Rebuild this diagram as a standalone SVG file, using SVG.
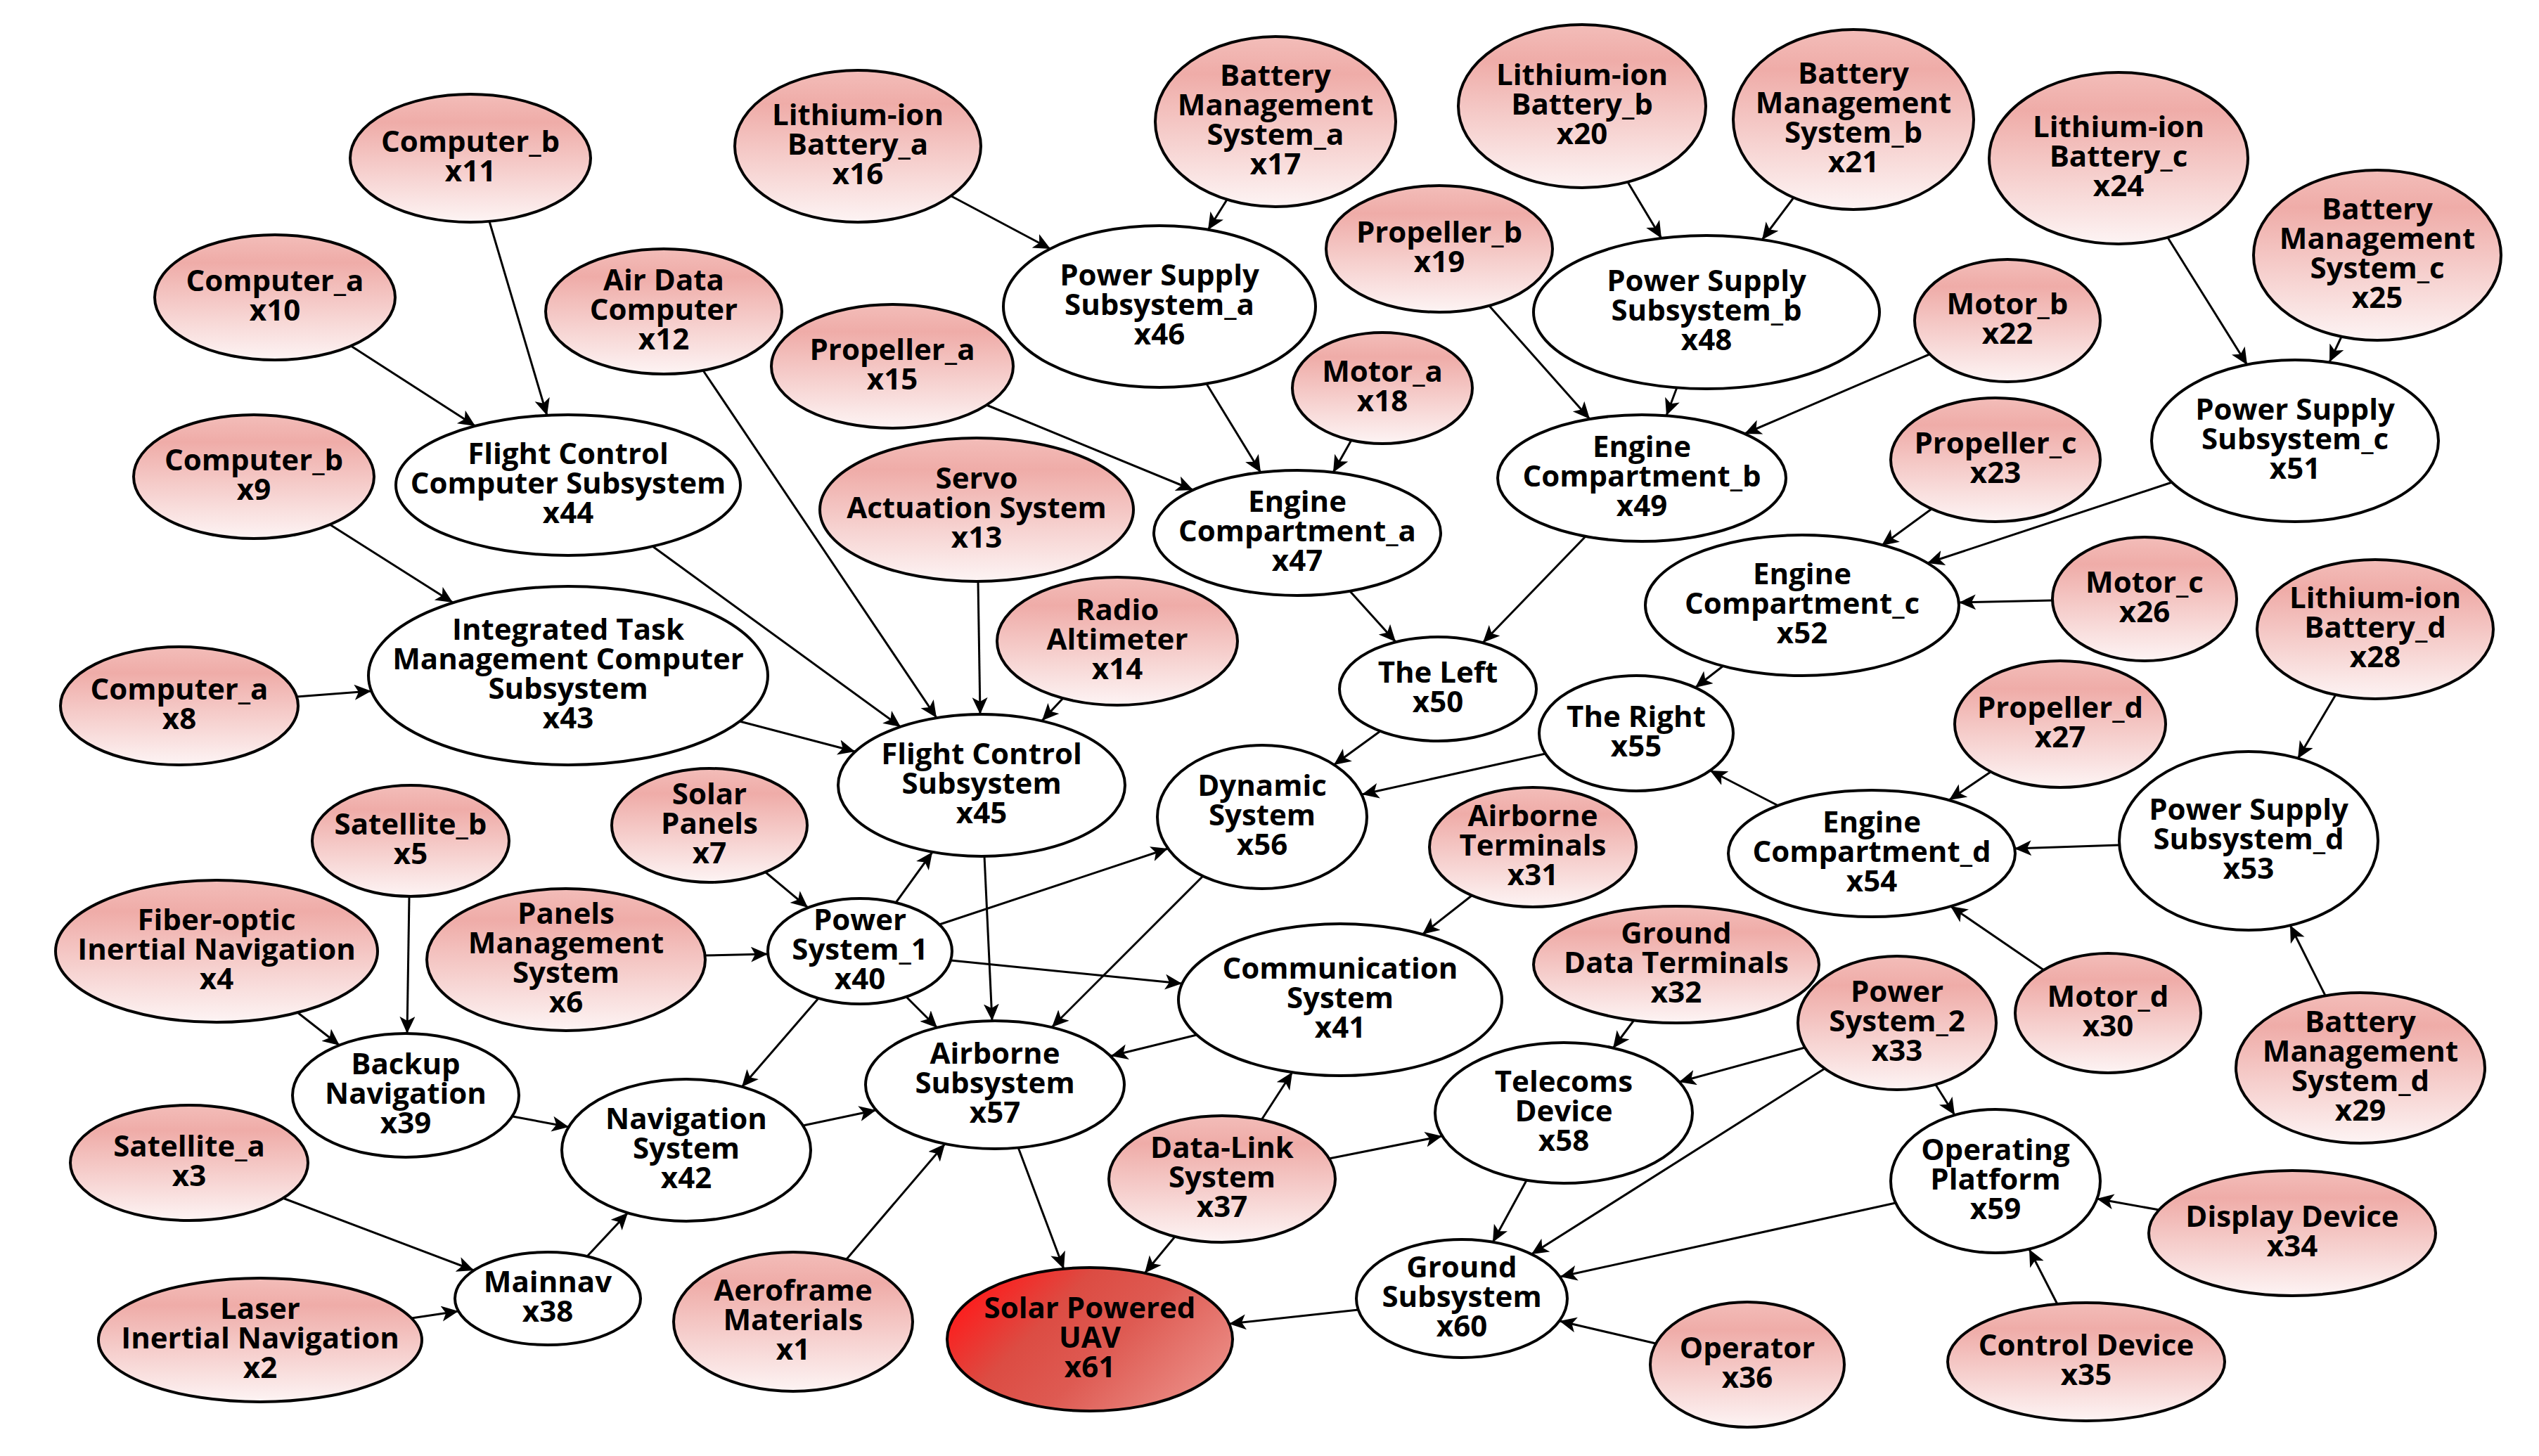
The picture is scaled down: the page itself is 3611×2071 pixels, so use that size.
<svg xmlns="http://www.w3.org/2000/svg" width="3611" height="2071" viewBox="0 0 3611 2071">
<style>
.n ellipse{stroke:#000;stroke-width:4}
.leaf ellipse{fill:url(#pink)}
.mid ellipse{fill:#fff}
.root ellipse{fill:url(#red)}
text{font-family:"Open Sans","Noto Sans","Liberation Sans",sans-serif;font-weight:700;font-size:42px;text-anchor:middle;fill:#000}
#edges line{stroke:#000;stroke-width:3;marker-end:url(#ah)}
</style>
<defs>
<linearGradient id="pink" x1="0" y1="0" x2="0" y2="1">
<stop offset="0" stop-color="#f3bdb9"/>
<stop offset="0.22" stop-color="#efaca8"/>
<stop offset="1" stop-color="#fdf4f4"/>
</linearGradient>
<linearGradient id="red" x1="0" y1="0.3" x2="1" y2="0.8">
<stop offset="0" stop-color="#ff1a1a"/>
<stop offset="0.3" stop-color="#dc4c43"/>
<stop offset="0.55" stop-color="#de5a52"/>
<stop offset="1" stop-color="#ec918a"/>
</linearGradient>
<marker id="ah" markerUnits="userSpaceOnUse" markerWidth="26" markerHeight="24" refX="24" refY="11" orient="auto">
<path d="M0,0 L24,11 L0,22 L6,11 z" fill="#000"/>
</marker>
</defs>
<rect width="3611" height="2071" fill="#fff"/>

<g id="x1" class="n leaf"><ellipse cx="1128" cy="1880" rx="170" ry="99"/><text x="1128" y="1850"><tspan x="1128">Aeroframe</tspan><tspan x="1128" dy="42">Materials</tspan><tspan x="1128" dy="42">x1</tspan></text></g>
<g id="x2" class="n leaf"><ellipse cx="370" cy="1906" rx="230" ry="88"/><text x="370" y="1876"><tspan x="370">Laser</tspan><tspan x="370" dy="42">Inertial Navigation</tspan><tspan x="370" dy="42">x2</tspan></text></g>
<g id="x3" class="n leaf"><ellipse cx="269" cy="1654" rx="169" ry="82"/><text x="269" y="1645"><tspan x="269">Satellite_a</tspan><tspan x="269" dy="42">x3</tspan></text></g>
<g id="x4" class="n leaf"><ellipse cx="308" cy="1353" rx="229" ry="101"/><text x="308" y="1323"><tspan x="308">Fiber-optic</tspan><tspan x="308" dy="42">Inertial Navigation</tspan><tspan x="308" dy="42">x4</tspan></text></g>
<g id="x5" class="n leaf"><ellipse cx="584" cy="1196" rx="140" ry="79"/><text x="584" y="1187"><tspan x="584">Satellite_b</tspan><tspan x="584" dy="42">x5</tspan></text></g>
<g id="x6" class="n leaf"><ellipse cx="805" cy="1365" rx="198" ry="101"/><text x="805" y="1314"><tspan x="805">Panels</tspan><tspan x="805" dy="42">Management</tspan><tspan x="805" dy="42">System</tspan><tspan x="805" dy="42">x6</tspan></text></g>
<g id="x7" class="n leaf"><ellipse cx="1009" cy="1174" rx="139" ry="81"/><text x="1009" y="1144"><tspan x="1009">Solar</tspan><tspan x="1009" dy="42">Panels</tspan><tspan x="1009" dy="42">x7</tspan></text></g>
<g id="x8" class="n leaf"><ellipse cx="255" cy="1004" rx="169" ry="84"/><text x="255" y="995"><tspan x="255">Computer_a</tspan><tspan x="255" dy="42">x8</tspan></text></g>
<g id="x9" class="n leaf"><ellipse cx="361" cy="678" rx="171" ry="88"/><text x="361" y="669"><tspan x="361">Computer_b</tspan><tspan x="361" dy="42">x9</tspan></text></g>
<g id="x10" class="n leaf"><ellipse cx="391" cy="423" rx="171" ry="89"/><text x="391" y="414"><tspan x="391">Computer_a</tspan><tspan x="391" dy="42">x10</tspan></text></g>
<g id="x11" class="n leaf"><ellipse cx="669" cy="225" rx="171" ry="91"/><text x="669" y="216"><tspan x="669">Computer_b</tspan><tspan x="669" dy="42">x11</tspan></text></g>
<g id="x12" class="n leaf"><ellipse cx="944" cy="443" rx="168" ry="89"/><text x="944" y="413"><tspan x="944">Air Data</tspan><tspan x="944" dy="42">Computer</tspan><tspan x="944" dy="42">x12</tspan></text></g>
<g id="x13" class="n leaf"><ellipse cx="1389" cy="725" rx="223" ry="102"/><text x="1389" y="695"><tspan x="1389">Servo</tspan><tspan x="1389" dy="42">Actuation System</tspan><tspan x="1389" dy="42">x13</tspan></text></g>
<g id="x14" class="n leaf"><ellipse cx="1589" cy="912" rx="171" ry="91"/><text x="1589" y="882"><tspan x="1589">Radio</tspan><tspan x="1589" dy="42">Altimeter</tspan><tspan x="1589" dy="42">x14</tspan></text></g>
<g id="x15" class="n leaf"><ellipse cx="1269" cy="521" rx="172" ry="88"/><text x="1269" y="512"><tspan x="1269">Propeller_a</tspan><tspan x="1269" dy="42">x15</tspan></text></g>
<g id="x16" class="n leaf"><ellipse cx="1220" cy="208" rx="175" ry="108"/><text x="1220" y="178"><tspan x="1220">Lithium-ion</tspan><tspan x="1220" dy="42">Battery_a</tspan><tspan x="1220" dy="42">x16</tspan></text></g>
<g id="x17" class="n leaf"><ellipse cx="1814" cy="173" rx="171" ry="121"/><text x="1814" y="122"><tspan x="1814">Battery</tspan><tspan x="1814" dy="42">Management</tspan><tspan x="1814" dy="42">System_a</tspan><tspan x="1814" dy="42">x17</tspan></text></g>
<g id="x18" class="n leaf"><ellipse cx="1966" cy="552" rx="128" ry="79"/><text x="1966" y="543"><tspan x="1966">Motor_a</tspan><tspan x="1966" dy="42">x18</tspan></text></g>
<g id="x19" class="n leaf"><ellipse cx="2047" cy="354" rx="161" ry="90"/><text x="2047" y="345"><tspan x="2047">Propeller_b</tspan><tspan x="2047" dy="42">x19</tspan></text></g>
<g id="x20" class="n leaf"><ellipse cx="2250" cy="151" rx="176" ry="116"/><text x="2250" y="121"><tspan x="2250">Lithium-ion</tspan><tspan x="2250" dy="42">Battery_b</tspan><tspan x="2250" dy="42">x20</tspan></text></g>
<g id="x21" class="n leaf"><ellipse cx="2636" cy="170" rx="171" ry="128"/><text x="2636" y="119"><tspan x="2636">Battery</tspan><tspan x="2636" dy="42">Management</tspan><tspan x="2636" dy="42">System_b</tspan><tspan x="2636" dy="42">x21</tspan></text></g>
<g id="x22" class="n leaf"><ellipse cx="2855" cy="456" rx="132" ry="87"/><text x="2855" y="447"><tspan x="2855">Motor_b</tspan><tspan x="2855" dy="42">x22</tspan></text></g>
<g id="x23" class="n leaf"><ellipse cx="2838" cy="654" rx="149" ry="88"/><text x="2838" y="645"><tspan x="2838">Propeller_c</tspan><tspan x="2838" dy="42">x23</tspan></text></g>
<g id="x24" class="n leaf"><ellipse cx="3013" cy="225" rx="184" ry="122"/><text x="3013" y="195"><tspan x="3013">Lithium-ion</tspan><tspan x="3013" dy="42">Battery_c</tspan><tspan x="3013" dy="42">x24</tspan></text></g>
<g id="x25" class="n leaf"><ellipse cx="3381" cy="363" rx="176" ry="121"/><text x="3381" y="312"><tspan x="3381">Battery</tspan><tspan x="3381" dy="42">Management</tspan><tspan x="3381" dy="42">System_c</tspan><tspan x="3381" dy="42">x25</tspan></text></g>
<g id="x26" class="n leaf"><ellipse cx="3050" cy="852" rx="131" ry="88"/><text x="3050" y="843"><tspan x="3050">Motor_c</tspan><tspan x="3050" dy="42">x26</tspan></text></g>
<g id="x27" class="n leaf"><ellipse cx="2930" cy="1030" rx="150" ry="90"/><text x="2930" y="1021"><tspan x="2930">Propeller_d</tspan><tspan x="2930" dy="42">x27</tspan></text></g>
<g id="x28" class="n leaf"><ellipse cx="3378" cy="895" rx="168" ry="99"/><text x="3378" y="865"><tspan x="3378">Lithium-ion</tspan><tspan x="3378" dy="42">Battery_d</tspan><tspan x="3378" dy="42">x28</tspan></text></g>
<g id="x29" class="n leaf"><ellipse cx="3357" cy="1519" rx="177" ry="107"/><text x="3357" y="1468"><tspan x="3357">Battery</tspan><tspan x="3357" dy="42">Management</tspan><tspan x="3357" dy="42">System_d</tspan><tspan x="3357" dy="42">x29</tspan></text></g>
<g id="x30" class="n leaf"><ellipse cx="2998" cy="1441" rx="132" ry="85"/><text x="2998" y="1432"><tspan x="2998">Motor_d</tspan><tspan x="2998" dy="42">x30</tspan></text></g>
<g id="x31" class="n leaf"><ellipse cx="2180" cy="1205" rx="147" ry="85"/><text x="2180" y="1175"><tspan x="2180">Airborne</tspan><tspan x="2180" dy="42">Terminals</tspan><tspan x="2180" dy="42">x31</tspan></text></g>
<g id="x32" class="n leaf"><ellipse cx="2384" cy="1372" rx="203" ry="83"/><text x="2384" y="1342"><tspan x="2384">Ground</tspan><tspan x="2384" dy="42">Data Terminals</tspan><tspan x="2384" dy="42">x32</tspan></text></g>
<g id="x33" class="n leaf"><ellipse cx="2698" cy="1455" rx="141" ry="95"/><text x="2698" y="1425"><tspan x="2698">Power</tspan><tspan x="2698" dy="42">System_2</tspan><tspan x="2698" dy="42">x33</tspan></text></g>
<g id="x34" class="n leaf"><ellipse cx="3260" cy="1754" rx="204" ry="89"/><text x="3260" y="1745"><tspan x="3260">Display Device</tspan><tspan x="3260" dy="42">x34</tspan></text></g>
<g id="x35" class="n leaf"><ellipse cx="2967" cy="1937" rx="197" ry="84"/><text x="2967" y="1928"><tspan x="2967">Control Device</tspan><tspan x="2967" dy="42">x35</tspan></text></g>
<g id="x36" class="n leaf"><ellipse cx="2485" cy="1941" rx="138" ry="89"/><text x="2485" y="1932"><tspan x="2485">Operator</tspan><tspan x="2485" dy="42">x36</tspan></text></g>
<g id="x37" class="n leaf"><ellipse cx="1738" cy="1677" rx="161" ry="90"/><text x="1738" y="1647"><tspan x="1738">Data-Link</tspan><tspan x="1738" dy="42">System</tspan><tspan x="1738" dy="42">x37</tspan></text></g>
<g id="x38" class="n mid"><ellipse cx="779" cy="1847" rx="132" ry="66"/><text x="779" y="1838"><tspan x="779">Mainnav</tspan><tspan x="779" dy="42">x38</tspan></text></g>
<g id="x39" class="n mid"><ellipse cx="577" cy="1558" rx="161" ry="88"/><text x="577" y="1528"><tspan x="577">Backup</tspan><tspan x="577" dy="42">Navigation</tspan><tspan x="577" dy="42">x39</tspan></text></g>
<g id="x40" class="n mid"><ellipse cx="1223" cy="1353" rx="131" ry="75"/><text x="1223" y="1323"><tspan x="1223">Power</tspan><tspan x="1223" dy="42">System_1</tspan><tspan x="1223" dy="42">x40</tspan></text></g>
<g id="x41" class="n mid"><ellipse cx="1906" cy="1422" rx="230" ry="108"/><text x="1906" y="1392"><tspan x="1906">Communication</tspan><tspan x="1906" dy="42">System</tspan><tspan x="1906" dy="42">x41</tspan></text></g>
<g id="x42" class="n mid"><ellipse cx="976" cy="1636" rx="177" ry="101"/><text x="976" y="1606"><tspan x="976">Navigation</tspan><tspan x="976" dy="42">System</tspan><tspan x="976" dy="42">x42</tspan></text></g>
<g id="x43" class="n mid"><ellipse cx="808" cy="961" rx="284" ry="127"/><text x="808" y="910"><tspan x="808">Integrated Task</tspan><tspan x="808" dy="42">Management Computer</tspan><tspan x="808" dy="42">Subsystem</tspan><tspan x="808" dy="42">x43</tspan></text></g>
<g id="x44" class="n mid"><ellipse cx="808" cy="690" rx="245" ry="100"/><text x="808" y="660"><tspan x="808">Flight Control</tspan><tspan x="808" dy="42">Computer Subsystem</tspan><tspan x="808" dy="42">x44</tspan></text></g>
<g id="x45" class="n mid"><ellipse cx="1396" cy="1117" rx="204" ry="101"/><text x="1396" y="1087"><tspan x="1396">Flight Control</tspan><tspan x="1396" dy="42">Subsystem</tspan><tspan x="1396" dy="42">x45</tspan></text></g>
<g id="x46" class="n mid"><ellipse cx="1649" cy="436" rx="222" ry="115"/><text x="1649" y="406"><tspan x="1649">Power Supply</tspan><tspan x="1649" dy="42">Subsystem_a</tspan><tspan x="1649" dy="42">x46</tspan></text></g>
<g id="x47" class="n mid"><ellipse cx="1845" cy="758" rx="204" ry="89"/><text x="1845" y="728"><tspan x="1845">Engine</tspan><tspan x="1845" dy="42">Compartment_a</tspan><tspan x="1845" dy="42">x47</tspan></text></g>
<g id="x48" class="n mid"><ellipse cx="2427" cy="444" rx="246" ry="109"/><text x="2427" y="414"><tspan x="2427">Power Supply</tspan><tspan x="2427" dy="42">Subsystem_b</tspan><tspan x="2427" dy="42">x48</tspan></text></g>
<g id="x49" class="n mid"><ellipse cx="2335" cy="680" rx="205" ry="90"/><text x="2335" y="650"><tspan x="2335">Engine</tspan><tspan x="2335" dy="42">Compartment_b</tspan><tspan x="2335" dy="42">x49</tspan></text></g>
<g id="x50" class="n mid"><ellipse cx="2045" cy="980" rx="140" ry="74"/><text x="2045" y="971"><tspan x="2045">The Left</tspan><tspan x="2045" dy="42">x50</tspan></text></g>
<g id="x51" class="n mid"><ellipse cx="3264" cy="627" rx="204" ry="115"/><text x="3264" y="597"><tspan x="3264">Power Supply</tspan><tspan x="3264" dy="42">Subsystem_c</tspan><tspan x="3264" dy="42">x51</tspan></text></g>
<g id="x52" class="n mid"><ellipse cx="2563" cy="861" rx="223" ry="100"/><text x="2563" y="831"><tspan x="2563">Engine</tspan><tspan x="2563" dy="42">Compartment_c</tspan><tspan x="2563" dy="42">x52</tspan></text></g>
<g id="x53" class="n mid"><ellipse cx="3198" cy="1196" rx="184" ry="127"/><text x="3198" y="1166"><tspan x="3198">Power Supply</tspan><tspan x="3198" dy="42">Subsystem_d</tspan><tspan x="3198" dy="42">x53</tspan></text></g>
<g id="x54" class="n mid"><ellipse cx="2662" cy="1214" rx="204" ry="90"/><text x="2662" y="1184"><tspan x="2662">Engine</tspan><tspan x="2662" dy="42">Compartment_d</tspan><tspan x="2662" dy="42">x54</tspan></text></g>
<g id="x55" class="n mid"><ellipse cx="2327" cy="1043" rx="138" ry="82"/><text x="2327" y="1034"><tspan x="2327">The Right</tspan><tspan x="2327" dy="42">x55</tspan></text></g>
<g id="x56" class="n mid"><ellipse cx="1795" cy="1162" rx="149" ry="102"/><text x="1795" y="1132"><tspan x="1795">Dynamic</tspan><tspan x="1795" dy="42">System</tspan><tspan x="1795" dy="42">x56</tspan></text></g>
<g id="x57" class="n mid"><ellipse cx="1415" cy="1543" rx="184" ry="91"/><text x="1415" y="1513"><tspan x="1415">Airborne</tspan><tspan x="1415" dy="42">Subsystem</tspan><tspan x="1415" dy="42">x57</tspan></text></g>
<g id="x58" class="n mid"><ellipse cx="2224" cy="1583" rx="183" ry="100"/><text x="2224" y="1553"><tspan x="2224">Telecoms</tspan><tspan x="2224" dy="42">Device</tspan><tspan x="2224" dy="42">x58</tspan></text></g>
<g id="x59" class="n mid"><ellipse cx="2838" cy="1680" rx="149" ry="102"/><text x="2838" y="1650"><tspan x="2838">Operating</tspan><tspan x="2838" dy="42">Platform</tspan><tspan x="2838" dy="42">x59</tspan></text></g>
<g id="x60" class="n mid"><ellipse cx="2079" cy="1847" rx="150" ry="84"/><text x="2079" y="1817"><tspan x="2079">Ground</tspan><tspan x="2079" dy="42">Subsystem</tspan><tspan x="2079" dy="42">x60</tspan></text></g>
<g id="x61" class="n root"><ellipse cx="1550" cy="1905" rx="203" ry="102"/><text x="1550" y="1875"><tspan x="1550">Solar Powered</tspan><tspan x="1550" dy="42">UAV</tspan><tspan x="1550" dy="42">x61</tspan></text></g>

<g id="edges">
<line x1="585" y1="1875" x2="652" y2="1865"/>
<line x1="402" y1="1704" x2="674" y2="1807"/>
<line x1="835" y1="1787" x2="893" y2="1725"/>
<line x1="729" y1="1588" x2="809" y2="1603"/>
<line x1="423" y1="1440" x2="483" y2="1487"/>
<line x1="582" y1="1275" x2="579" y2="1470"/>
<line x1="1142" y1="1601" x2="1246" y2="1579"/>
<line x1="1204" y1="1791" x2="1344" y2="1627"/>
<line x1="1164" y1="1420" x2="1055" y2="1546"/>
<line x1="1289" y1="1418" x2="1333" y2="1462"/>
<line x1="1274" y1="1284" x2="1326" y2="1212"/>
<line x1="1336" y1="1315" x2="1661" y2="1207"/>
<line x1="1352" y1="1366" x2="1681" y2="1399"/>
<line x1="1003" y1="1359" x2="1092" y2="1357"/>
<line x1="1088" y1="1240" x2="1149" y2="1291"/>
<line x1="1400" y1="1218" x2="1411" y2="1452"/>
<line x1="1711" y1="1246" x2="1496" y2="1461"/>
<line x1="1702" y1="1472" x2="1580" y2="1502"/>
<line x1="1448" y1="1632" x2="1513" y2="1805"/>
<line x1="1052" y1="1026" x2="1216" y2="1069"/>
<line x1="422" y1="991" x2="528" y2="983"/>
<line x1="469" y1="746" x2="644" y2="857"/>
<line x1="499" y1="492" x2="676" y2="606"/>
<line x1="696" y1="315" x2="778" y2="591"/>
<line x1="928" y1="777" x2="1281" y2="1034"/>
<line x1="1000" y1="527" x2="1332" y2="1021"/>
<line x1="1391" y1="827" x2="1394" y2="1016"/>
<line x1="1512" y1="993" x2="1482" y2="1025"/>
<line x1="1353" y1="279" x2="1494" y2="354"/>
<line x1="1745" y1="284" x2="1718" y2="327"/>
<line x1="1716" y1="546" x2="1793" y2="672"/>
<line x1="1403" y1="576" x2="1697" y2="697"/>
<line x1="1922" y1="626" x2="1896" y2="672"/>
<line x1="1920" y1="841" x2="1985" y2="913"/>
<line x1="2255" y1="763" x2="2109" y2="914"/>
<line x1="1963" y1="1040" x2="1897" y2="1088"/>
<line x1="2198" y1="1072" x2="1937" y2="1130"/>
<line x1="2118" y1="435" x2="2261" y2="596"/>
<line x1="2315" y1="259" x2="2363" y2="339"/>
<line x1="2551" y1="281" x2="2506" y2="341"/>
<line x1="2385" y1="551" x2="2370" y2="591"/>
<line x1="2744" y1="504" x2="2481" y2="617"/>
<line x1="3083" y1="338" x2="3196" y2="519"/>
<line x1="3330" y1="479" x2="3313" y2="515"/>
<line x1="3089" y1="686" x2="2741" y2="801"/>
<line x1="2747" y1="724" x2="2676" y2="776"/>
<line x1="2919" y1="854" x2="2786" y2="857"/>
<line x1="2451" y1="947" x2="2411" y2="978"/>
<line x1="2529" y1="1146" x2="2432" y2="1096"/>
<line x1="2831" y1="1098" x2="2772" y2="1138"/>
<line x1="3014" y1="1202" x2="2865" y2="1207"/>
<line x1="2907" y1="1380" x2="2774" y2="1289"/>
<line x1="3322" y1="988" x2="3268" y2="1079"/>
<line x1="3307" y1="1416" x2="3257" y2="1316"/>
<line x1="2093" y1="1274" x2="2023" y2="1329"/>
<line x1="1794" y1="1593" x2="1838" y2="1525"/>
<line x1="1890" y1="1648" x2="2051" y2="1616"/>
<line x1="1671" y1="1759" x2="1628" y2="1811"/>
<line x1="2324" y1="1451" x2="2294" y2="1491"/>
<line x1="2567" y1="1490" x2="2388" y2="1539"/>
<line x1="2753" y1="1543" x2="2780" y2="1586"/>
<line x1="2595" y1="1520" x2="2178" y2="1784"/>
<line x1="2171" y1="1679" x2="2123" y2="1767"/>
<line x1="2696" y1="1711" x2="2219" y2="1816"/>
<line x1="3071" y1="1721" x2="2982" y2="1705"/>
<line x1="2926" y1="1855" x2="2886" y2="1777"/>
<line x1="2355" y1="1911" x2="2218" y2="1879"/>
<line x1="1932" y1="1863" x2="1748" y2="1883"/>
</g>
</svg>
